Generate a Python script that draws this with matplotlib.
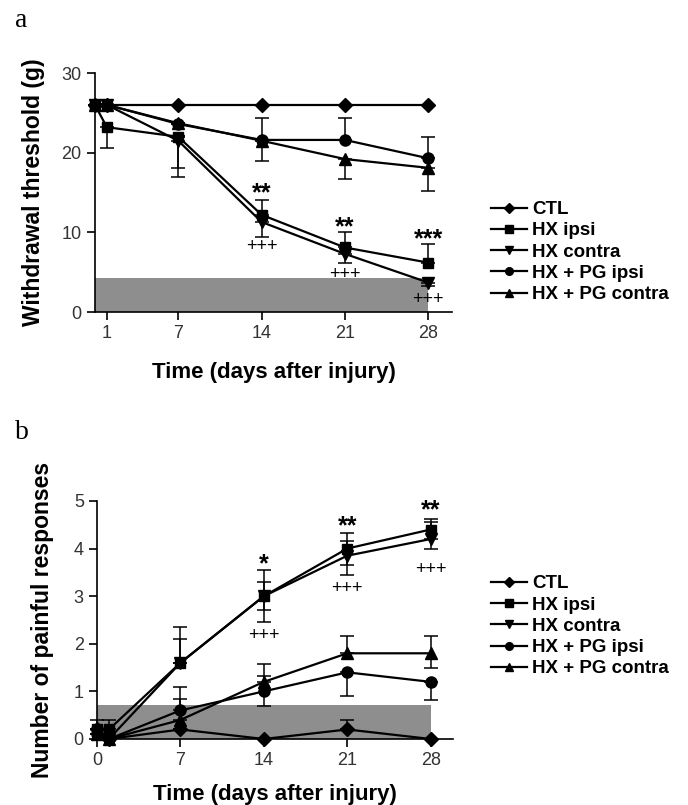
import matplotlib
matplotlib.use('Agg')
import matplotlib.pyplot as plt
from matplotlib.lines import Line2D

# ---- data, panel a: withdrawal threshold (g) ----
days_a = [0, 1, 7, 14, 21, 28]
labels = ['CTL', 'HX ipsi', 'HX contra', 'HX + PG ipsi', 'HX + PG contra']
markers = ['D', 's', 'v', 'o', '^']

a_ctl = [26, 26, 26, 26, 26, 26]
a_hx_ipsi = [26, 23.2, 22.0, 12.2, 8.1, 6.2]
a_hx_contra = [26, 26, 21.5, 11.3, 7.3, 3.7]
a_pg_ipsi = [26, 26, 23.6, 21.6, 21.6, 19.3]
a_pg_contra = [26, 26, 23.7, 21.5, 19.2, 18.1]

# error bars (lower, upper)
a_err_ctl = [[0, 0, 0, 0, 0, 0], [0, 0, 0, 0, 0, 0]]
a_err_hx_ipsi = [[0, 2.6, 5.0, 0, 0, 0], [0, 0, 0, 1.8, 1.9, 2.3]]
a_err_hx_contra = [[0, 0, 3.4, 1.9, 1.2, 0.4], [0, 0, 0, 0, 0, 0]]
a_err_pg_ipsi = [[0, 0, 0, 0, 0, 0], [0, 0, 0, 2.7, 2.7, 2.7]]
a_err_pg_contra = [[0, 0, 0, 2.6, 2.5, 2.9], [0, 0, 0, 0, 0, 0]]

a_shade_x = [0, 28]
a_shade_y = [4.3, 4.3]

# significance marks (text baseline positions)
a_star_x = [14, 21, 28]
a_star_y = [14.0, 9.8, 8.3]
a_star_txt = ['**', '**', '***']
a_plus_x = [14, 21, 28]
a_plus_y = [7.6, 4.2, 0.95]

# ---- data, panel b: number of painful responses ----
days_b = [0, 1, 7, 14, 21, 28]
b_ctl = [0.2, 0.0, 0.2, 0.0, 0.2, 0.0]
b_hx_ipsi = [0.2, 0.2, 1.6, 3.0, 4.0, 4.4]
b_hx_contra = [0.1, 0.0, 1.6, 3.0, 3.85, 4.2]
b_pg_ipsi = [0.1, 0.0, 0.6, 1.0, 1.4, 1.2]
b_pg_contra = [0.1, 0.0, 0.4, 1.2, 1.8, 1.8]

b_err_ctl = [[0, 0, 0, 0, 0, 0], [0, 0, 0, 0, 0.2, 0]]
b_err_hx_ipsi = [[0, 0, 0, 0.55, 0.35, 0.2], [0.2, 0.2, 0.75, 0.55, 0.32, 0.22]]
b_err_hx_contra = [[0, 0, 0, 0.3, 0.4, 0.2], [0, 0, 0.5, 0.3, 0.3, 0.35]]
b_err_pg_ipsi = [[0, 0, 0, 0.3, 0.5, 0.38], [0, 0, 0.5, 0.32, 0, 0]]
b_err_pg_contra = [[0, 0, 0, 0, 0, 0.3], [0, 0, 0.45, 0.37, 0.37, 0.37]]

b_shade_x = [0, 28]
b_shade_y = [0.72, 0.72]

b_star_x = [14, 21, 28]
b_star_y = [3.53, 4.31, 4.66]
b_star_txt = ['*', '**', '**']
b_plus_x = [14, 21, 28]
b_plus_y = [2.08, 3.07, 3.46]

plt.rcParams['font.family'] = ['Liberation Sans', 'DejaVu Sans']

fig = plt.figure(figsize=(6.88, 8.05), dpi=100)
ax_a = fig.add_axes([0.138, 0.6124, 0.519, 0.2969])
ax_b = fig.add_axes([0.141, 0.082, 0.517, 0.2957])


def draw_panel(ax, days, series, errs, shade_x, shade_y):
	ax.fill_between(shade_x, [0, 0], shade_y, color='#8e8e8e', lw=0, zorder=1)
	for vals, err, m, lab in zip(series, errs, markers, labels):
		ms = 7.5 if m in ('s', 'D') else 8
		ax.errorbar(days, vals, yerr=err, fmt='-', marker=m, color='black',
			ms=ms, lw=1.6, elinewidth=1.1, capsize=5, capthick=1.1,
			clip_on=False, zorder=3, label=lab)
	for s in ['top', 'right']:
		ax.spines[s].set_visible(False)
	for s in ['left', 'bottom']:
		ax.spines[s].set_linewidth(1.2)
	ax.tick_params(direction='out', length=6, width=1.2, labelsize=13,
		labelcolor='#333333')


def marks(ax, sx, sy, stxt, px, py):
	for x, y, t in zip(sx, sy, stxt):
		ax.text(x, y, t, ha='center', va='baseline', fontsize=18, fontweight='bold')
	for x, y in zip(px, py):
		ax.text(x, y, '+++', ha='center', va='baseline', fontsize=13)


draw_panel(ax_a, days_a, [a_ctl, a_hx_ipsi, a_hx_contra, a_pg_ipsi, a_pg_contra],
	[a_err_ctl, a_err_hx_ipsi, a_err_hx_contra, a_err_pg_ipsi, a_err_pg_contra],
	a_shade_x, a_shade_y)
ax_a.set_xlim(0, 30)
ax_a.set_ylim(0, 30)
ax_a.set_xticks([1, 7, 14, 21, 28])
ax_a.set_yticks([0, 10, 20, 30])
ax_a.set_xlabel('Time (days after injury)', fontsize=16, fontweight='bold', labelpad=14)
ax_a.set_ylabel('Withdrawal threshold (g)', fontsize=16.5, fontweight='bold', labelpad=12)
marks(ax_a, a_star_x, a_star_y, a_star_txt, a_plus_x, a_plus_y)

draw_panel(ax_b, days_b, [b_ctl, b_hx_ipsi, b_hx_contra, b_pg_ipsi, b_pg_contra],
	[b_err_ctl, b_err_hx_ipsi, b_err_hx_contra, b_err_pg_ipsi, b_err_pg_contra],
	b_shade_x, b_shade_y)
ax_b.set_xlim(0, 29.85)
ax_b.set_ylim(0, 5)
ax_b.set_xticks([0, 7, 14, 21, 28])
ax_b.set_yticks([0, 1, 2, 3, 4, 5])
ax_b.set_xlabel('Time (days after injury)', fontsize=16, fontweight='bold', labelpad=11)
ax_b.set_ylabel('Number of painful responses', fontsize=16.5, fontweight='bold', labelpad=14)
marks(ax_b, b_star_x, b_star_y, b_star_txt, b_plus_x, b_plus_y)

# legends (no error bars in handles)
handles = [Line2D([], [], color='black', lw=1.6, marker=m, ms=5.5) for m in markers]
for top in [0.762, 0.297]:
	fig.legend(handles, labels, loc='upper left', bbox_to_anchor=(0.70, top),
		frameon=False, borderpad=0, handlelength=1.9, handletextpad=0.3,
		labelspacing=0.22, prop={'size': 13.5, 'weight': 'bold'})

fig.text(0.022, 0.975, 'a', family='Liberation Serif', fontsize=20, va='center')
fig.text(0.022, 0.463, 'b', family='Liberation Serif', fontsize=20, va='center')

fig.savefig('out.png', dpi=100)
